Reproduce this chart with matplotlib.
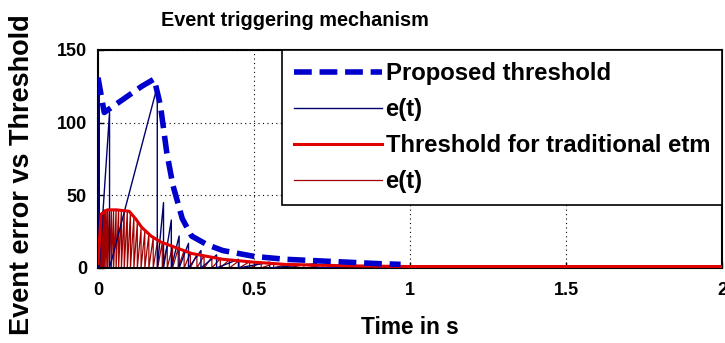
import numpy as np
import matplotlib
matplotlib.use("Agg")
import matplotlib.pyplot as plt

plt.rcParams['font.family'] = ['Liberation Sans', 'DejaVu Sans']
plt.rcParams['font.weight'] = 'bold'

# ---------------- data ----------------
title = "Event triggering mechanism"
xlabel = "Time in s"
ylabel = "Event error vs Threshold"
xticks = [0, 0.5, 1, 1.5, 2]
xticklabels = ["0", "0.5", "1", "1.5", "2"]
yticks = [0, 50, 100, 150]
yticklabels = ["0", "50", "100", "150"]

# proposed threshold
blue_thr_t = [0, 0.02, 0.06, 0.10, 0.14, 0.18, 0.20, 0.22, 0.24, 0.27, 0.30, 0.35,
              0.40, 0.45, 0.50, 0.60, 0.70, 0.80, 0.90, 0.97]
blue_thr_v = [131, 107, 113, 119, 125, 130, 112, 80, 57, 34, 22, 16,
              12, 10, 8, 6, 5, 4, 3, 2.5]

# e(t) for proposed scheme: event instants and error peak reached at each event
blue_evt_t = [0.004, 0.037, 0.19, 0.21, 0.235, 0.26, 0.29, 0.33, 0.38, 0.45, 0.55, 0.70, 0.90]
blue_evt_peak = [130, 107, 125, 45, 33, 22, 17, 12, 9, 6, 4, 3, 2]

# traditional ETM threshold
red_thr_t = [0, 0.01, 0.03, 0.06, 0.10, 0.12, 0.14, 0.17, 0.20, 0.25, 0.30, 0.35,
             0.40, 0.50, 0.60, 0.80, 1.0, 1.5, 2.0]
red_thr_v = [3, 37, 40, 40, 39, 34, 28, 22, 18, 14, 10, 8,
             6, 4, 2.5, 1.5, 1, 1, 1]

# e(t) for traditional ETM
red_evt_t = [0.003, 0.006, 0.009, 0.012, 0.016, 0.020, 0.025, 0.030, 0.036, 0.043,
             0.050, 0.058, 0.066, 0.075, 0.084, 0.094, 0.104, 0.115, 0.126, 0.138,
             0.150, 0.163, 0.177, 0.191, 0.206, 0.222, 0.239, 0.257, 0.276, 0.296,
             0.317, 0.340, 0.365, 0.392, 0.421, 0.452, 0.486, 0.523, 0.563, 0.607,
             0.66, 0.72, 0.79, 0.87, 0.96]
red_evt_peak = [15, 28, 35, 38, 39, 40, 40, 40, 40, 40,
                40, 40, 40, 40, 39.5, 39, 38, 35, 31, 27,
                25, 23, 21, 19, 17.5, 16, 15, 13.5, 12, 10.5,
                9.5, 8.5, 7.5, 6.5, 5.8, 5, 4.3, 3.7, 3.1, 2.6,
                2.2, 1.9, 1.7, 1.5, 1.3]

labels = ["Proposed threshold", "e(t)", "Threshold for traditional etm", "e(t)"]


def sawtooth(evt_t, evt_peak, t_end=2.0):
    xs, ys = [0.0], [0.0]
    for t, p in zip(evt_t, evt_peak):
        xs += [t, t]
        ys += [p, 0.0]
    xs.append(t_end)
    ys.append(0.0)
    return np.array(xs), np.array(ys)


bx, by = sawtooth(blue_evt_t, blue_evt_peak)
rx, ry = sawtooth(red_evt_t, red_evt_peak)

W, H = 725, 343
fig = plt.figure(figsize=(W / 100, H / 100), dpi=100)
ax = fig.add_axes([98 / W, 1 - 268 / H, (722 - 98) / W, (268 - 50) / H])

l1, = ax.plot(blue_thr_t, blue_thr_v, color='#0000CC', lw=4, dashes=(3.2, 1.4), zorder=4)
l2, = ax.plot(bx, by, color='#00006E', lw=1.0, zorder=3)
l3, = ax.plot(red_thr_t, red_thr_v, color='#E00000', lw=2.2, zorder=3)
l4, = ax.plot(rx, ry, color='#A00000', lw=0.9, zorder=2)

ax.set_xlim(0, 2)
ax.set_ylim(0, 150)
ax.set_xticks(xticks)
ax.set_xticklabels(xticklabels)
ax.set_yticks(yticks)
ax.set_yticklabels(yticklabels)
ax.tick_params(direction='in', length=4, width=1, labelsize=13)
ax.tick_params(axis='x', pad=10)
ax.tick_params(axis='y', pad=8)
ax.grid(True, color='black', linestyle=(0, (1, 3)), linewidth=0.8)
for s in ax.spines.values():
    s.set_linewidth(1.5)

fig.text(295 / W, 1 - 21 / H, title, fontsize=14.3, fontweight='bold',
         ha='center', va='center')
fig.text(410 / W, 1 - 327 / H, xlabel, fontsize=16.3, fontweight='bold',
         ha='center', va='center')
fig.text(22 / W, 1 - 175 / H, ylabel, fontsize=19.5, fontweight='bold',
         ha='center', va='center', rotation=90)

leg = ax.legend([l1, l2, l3, l4], labels, loc='upper right', borderaxespad=0,
                fancybox=False, framealpha=1, edgecolor='black',
                prop={'weight': 'bold', 'size': 17.2},
                handlelength=3.7, handletextpad=0.15, labelspacing=0.55, borderpad=0.5)
leg.get_frame().set_linewidth(1.2)

fig.savefig("out.png", dpi=100)
